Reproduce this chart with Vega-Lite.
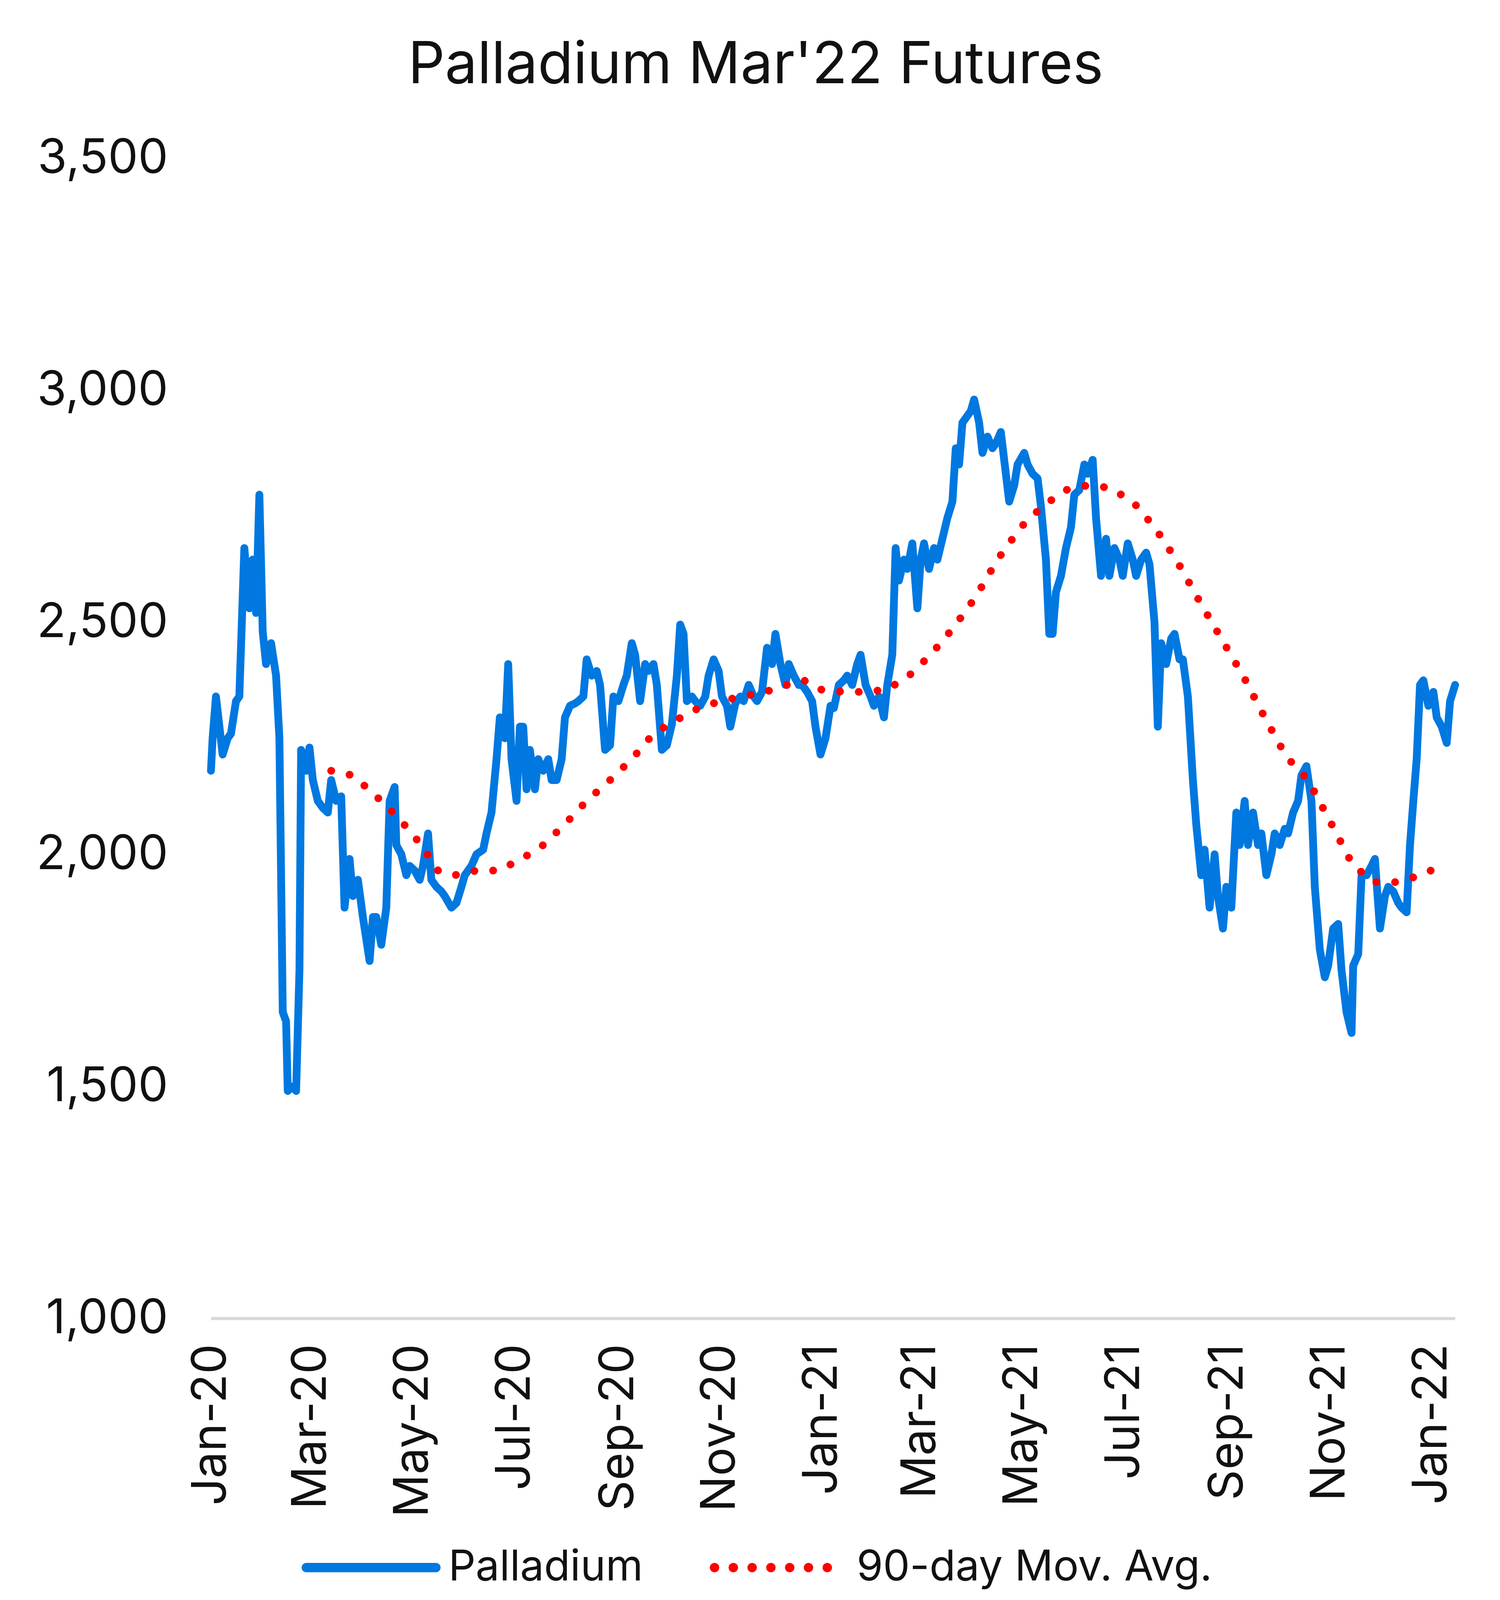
{
  "$schema": "https://vega.github.io/schema/vega-lite/v6.json",
  "description": "Palladium Mar'22 futures price with its 90-day moving average, Jan 2020 to Jan 2022.",
  "autosize": {"type": "none"},
  "width": 3185,
  "height": 2970,
  "padding": {"left": 540, "top": 405, "right": 115, "bottom": 1052},
  "background": "white",
  "config": {
    "font": "Inter",
    "view": {"stroke": null},
    "axis": {"labelFont": "Inter", "labelColor": "#111111", "labelFontSize": 122, "labelLimit": 0, "grid": false, "ticks": false, "title": null}
  },
  "title": {
    "text": "Palladium Mar'22 Futures",
    "fontSize": 148,
    "fontWeight": "normal",
    "color": "#111111",
    "anchor": "middle",
    "baseline": "alphabetic",
    "offset": 192,
    "dx": -198,
    "dy": 209
  },
  "datasets": {
    "palladium": [
      {"date": "2020-01-01", "series": "Palladium", "price": 2180},
      {"date": "2020-01-02", "series": "Palladium", "price": 2250},
      {"date": "2020-01-04", "series": "Palladium", "price": 2340},
      {"date": "2020-01-08", "series": "Palladium", "price": 2215},
      {"date": "2020-01-11", "series": "Palladium", "price": 2250},
      {"date": "2020-01-13", "series": "Palladium", "price": 2260},
      {"date": "2020-01-16", "series": "Palladium", "price": 2330},
      {"date": "2020-01-18", "series": "Palladium", "price": 2340},
      {"date": "2020-01-21", "series": "Palladium", "price": 2660},
      {"date": "2020-01-24", "series": "Palladium", "price": 2530},
      {"date": "2020-01-26", "series": "Palladium", "price": 2635},
      {"date": "2020-01-28", "series": "Palladium", "price": 2520},
      {"date": "2020-01-30", "series": "Palladium", "price": 2775},
      {"date": "2020-02-01", "series": "Palladium", "price": 2480},
      {"date": "2020-02-03", "series": "Palladium", "price": 2410},
      {"date": "2020-02-06", "series": "Palladium", "price": 2455},
      {"date": "2020-02-09", "series": "Palladium", "price": 2385},
      {"date": "2020-02-11", "series": "Palladium", "price": 2250},
      {"date": "2020-02-13", "series": "Palladium", "price": 1660},
      {"date": "2020-02-15", "series": "Palladium", "price": 1640},
      {"date": "2020-02-16", "series": "Palladium", "price": 1490},
      {"date": "2020-02-19", "series": "Palladium", "price": 1500},
      {"date": "2020-02-21", "series": "Palladium", "price": 1490},
      {"date": "2020-02-23", "series": "Palladium", "price": 1750},
      {"date": "2020-02-24", "series": "Palladium", "price": 2225},
      {"date": "2020-02-27", "series": "Palladium", "price": 2180},
      {"date": "2020-02-29", "series": "Palladium", "price": 2230},
      {"date": "2020-03-02", "series": "Palladium", "price": 2160},
      {"date": "2020-03-05", "series": "Palladium", "price": 2115},
      {"date": "2020-03-08", "series": "Palladium", "price": 2100},
      {"date": "2020-03-11", "series": "Palladium", "price": 2090},
      {"date": "2020-03-13", "series": "Palladium", "price": 2160},
      {"date": "2020-03-16", "series": "Palladium", "price": 2115},
      {"date": "2020-03-19", "series": "Palladium", "price": 2125},
      {"date": "2020-03-21", "series": "Palladium", "price": 1885},
      {"date": "2020-03-24", "series": "Palladium", "price": 1990},
      {"date": "2020-03-26", "series": "Palladium", "price": 1910},
      {"date": "2020-03-29", "series": "Palladium", "price": 1945},
      {"date": "2020-04-01", "series": "Palladium", "price": 1865},
      {"date": "2020-04-05", "series": "Palladium", "price": 1770},
      {"date": "2020-04-07", "series": "Palladium", "price": 1865},
      {"date": "2020-04-09", "series": "Palladium", "price": 1865},
      {"date": "2020-04-12", "series": "Palladium", "price": 1805},
      {"date": "2020-04-15", "series": "Palladium", "price": 1885},
      {"date": "2020-04-17", "series": "Palladium", "price": 2115},
      {"date": "2020-04-20", "series": "Palladium", "price": 2145},
      {"date": "2020-04-21", "series": "Palladium", "price": 2020},
      {"date": "2020-04-24", "series": "Palladium", "price": 2000},
      {"date": "2020-04-27", "series": "Palladium", "price": 1955},
      {"date": "2020-04-29", "series": "Palladium", "price": 1975},
      {"date": "2020-05-02", "series": "Palladium", "price": 1965},
      {"date": "2020-05-05", "series": "Palladium", "price": 1945},
      {"date": "2020-05-07", "series": "Palladium", "price": 1975},
      {"date": "2020-05-10", "series": "Palladium", "price": 2045},
      {"date": "2020-05-12", "series": "Palladium", "price": 1945},
      {"date": "2020-05-15", "series": "Palladium", "price": 1930},
      {"date": "2020-05-18", "series": "Palladium", "price": 1920},
      {"date": "2020-05-20", "series": "Palladium", "price": 1910},
      {"date": "2020-05-24", "series": "Palladium", "price": 1885},
      {"date": "2020-05-27", "series": "Palladium", "price": 1895},
      {"date": "2020-05-30", "series": "Palladium", "price": 1930},
      {"date": "2020-06-01", "series": "Palladium", "price": 1955},
      {"date": "2020-06-05", "series": "Palladium", "price": 1975},
      {"date": "2020-06-08", "series": "Palladium", "price": 2000},
      {"date": "2020-06-12", "series": "Palladium", "price": 2010},
      {"date": "2020-06-14", "series": "Palladium", "price": 2045},
      {"date": "2020-06-17", "series": "Palladium", "price": 2090},
      {"date": "2020-06-20", "series": "Palladium", "price": 2205},
      {"date": "2020-06-22", "series": "Palladium", "price": 2295},
      {"date": "2020-06-25", "series": "Palladium", "price": 2250},
      {"date": "2020-06-27", "series": "Palladium", "price": 2410},
      {"date": "2020-06-29", "series": "Palladium", "price": 2205},
      {"date": "2020-07-02", "series": "Palladium", "price": 2115},
      {"date": "2020-07-04", "series": "Palladium", "price": 2275},
      {"date": "2020-07-06", "series": "Palladium", "price": 2275},
      {"date": "2020-07-08", "series": "Palladium", "price": 2140},
      {"date": "2020-07-10", "series": "Palladium", "price": 2225},
      {"date": "2020-07-13", "series": "Palladium", "price": 2140},
      {"date": "2020-07-15", "series": "Palladium", "price": 2205},
      {"date": "2020-07-18", "series": "Palladium", "price": 2180},
      {"date": "2020-07-21", "series": "Palladium", "price": 2205},
      {"date": "2020-07-23", "series": "Palladium", "price": 2160},
      {"date": "2020-07-26", "series": "Palladium", "price": 2160},
      {"date": "2020-07-29", "series": "Palladium", "price": 2205},
      {"date": "2020-07-31", "series": "Palladium", "price": 2295},
      {"date": "2020-08-03", "series": "Palladium", "price": 2320},
      {"date": "2020-08-06", "series": "Palladium", "price": 2325},
      {"date": "2020-08-08", "series": "Palladium", "price": 2330},
      {"date": "2020-08-11", "series": "Palladium", "price": 2340},
      {"date": "2020-08-13", "series": "Palladium", "price": 2420},
      {"date": "2020-08-16", "series": "Palladium", "price": 2385},
      {"date": "2020-08-19", "series": "Palladium", "price": 2395},
      {"date": "2020-08-21", "series": "Palladium", "price": 2365},
      {"date": "2020-08-24", "series": "Palladium", "price": 2225},
      {"date": "2020-08-27", "series": "Palladium", "price": 2235},
      {"date": "2020-08-29", "series": "Palladium", "price": 2340},
      {"date": "2020-09-01", "series": "Palladium", "price": 2330},
      {"date": "2020-09-04", "series": "Palladium", "price": 2365},
      {"date": "2020-09-06", "series": "Palladium", "price": 2385},
      {"date": "2020-09-09", "series": "Palladium", "price": 2455},
      {"date": "2020-09-11", "series": "Palladium", "price": 2430},
      {"date": "2020-09-14", "series": "Palladium", "price": 2330},
      {"date": "2020-09-17", "series": "Palladium", "price": 2410},
      {"date": "2020-09-19", "series": "Palladium", "price": 2395},
      {"date": "2020-09-22", "series": "Palladium", "price": 2410},
      {"date": "2020-09-24", "series": "Palladium", "price": 2365},
      {"date": "2020-09-27", "series": "Palladium", "price": 2225},
      {"date": "2020-09-30", "series": "Palladium", "price": 2235},
      {"date": "2020-10-03", "series": "Palladium", "price": 2280},
      {"date": "2020-10-06", "series": "Palladium", "price": 2385},
      {"date": "2020-10-08", "series": "Palladium", "price": 2495},
      {"date": "2020-10-10", "series": "Palladium", "price": 2475},
      {"date": "2020-10-12", "series": "Palladium", "price": 2330},
      {"date": "2020-10-15", "series": "Palladium", "price": 2340},
      {"date": "2020-10-17", "series": "Palladium", "price": 2330},
      {"date": "2020-10-20", "series": "Palladium", "price": 2320},
      {"date": "2020-10-23", "series": "Palladium", "price": 2340},
      {"date": "2020-10-25", "series": "Palladium", "price": 2385},
      {"date": "2020-10-28", "series": "Palladium", "price": 2420},
      {"date": "2020-10-31", "series": "Palladium", "price": 2395},
      {"date": "2020-11-02", "series": "Palladium", "price": 2340},
      {"date": "2020-11-05", "series": "Palladium", "price": 2320},
      {"date": "2020-11-07", "series": "Palladium", "price": 2275},
      {"date": "2020-11-10", "series": "Palladium", "price": 2325},
      {"date": "2020-11-13", "series": "Palladium", "price": 2340},
      {"date": "2020-11-15", "series": "Palladium", "price": 2330},
      {"date": "2020-11-18", "series": "Palladium", "price": 2365},
      {"date": "2020-11-21", "series": "Palladium", "price": 2340},
      {"date": "2020-11-23", "series": "Palladium", "price": 2330},
      {"date": "2020-11-26", "series": "Palladium", "price": 2350},
      {"date": "2020-11-29", "series": "Palladium", "price": 2445},
      {"date": "2020-12-02", "series": "Palladium", "price": 2410},
      {"date": "2020-12-04", "series": "Palladium", "price": 2475},
      {"date": "2020-12-07", "series": "Palladium", "price": 2410},
      {"date": "2020-12-10", "series": "Palladium", "price": 2365},
      {"date": "2020-12-12", "series": "Palladium", "price": 2410},
      {"date": "2020-12-15", "series": "Palladium", "price": 2385},
      {"date": "2020-12-18", "series": "Palladium", "price": 2365},
      {"date": "2020-12-20", "series": "Palladium", "price": 2365},
      {"date": "2020-12-23", "series": "Palladium", "price": 2350},
      {"date": "2020-12-26", "series": "Palladium", "price": 2330},
      {"date": "2020-12-28", "series": "Palladium", "price": 2275},
      {"date": "2020-12-31", "series": "Palladium", "price": 2215},
      {"date": "2021-01-03", "series": "Palladium", "price": 2250},
      {"date": "2021-01-06", "series": "Palladium", "price": 2320},
      {"date": "2021-01-08", "series": "Palladium", "price": 2315},
      {"date": "2021-01-11", "series": "Palladium", "price": 2365},
      {"date": "2021-01-14", "series": "Palladium", "price": 2375},
      {"date": "2021-01-16", "series": "Palladium", "price": 2385},
      {"date": "2021-01-19", "series": "Palladium", "price": 2365},
      {"date": "2021-01-22", "series": "Palladium", "price": 2410},
      {"date": "2021-01-24", "series": "Palladium", "price": 2430},
      {"date": "2021-01-27", "series": "Palladium", "price": 2365},
      {"date": "2021-01-30", "series": "Palladium", "price": 2340},
      {"date": "2021-02-01", "series": "Palladium", "price": 2320},
      {"date": "2021-02-04", "series": "Palladium", "price": 2340},
      {"date": "2021-02-07", "series": "Palladium", "price": 2295},
      {"date": "2021-02-09", "series": "Palladium", "price": 2365},
      {"date": "2021-02-12", "series": "Palladium", "price": 2430},
      {"date": "2021-02-14", "series": "Palladium", "price": 2660},
      {"date": "2021-02-16", "series": "Palladium", "price": 2590},
      {"date": "2021-02-19", "series": "Palladium", "price": 2635},
      {"date": "2021-02-21", "series": "Palladium", "price": 2615},
      {"date": "2021-02-24", "series": "Palladium", "price": 2670},
      {"date": "2021-02-27", "series": "Palladium", "price": 2530},
      {"date": "2021-03-01", "series": "Palladium", "price": 2635},
      {"date": "2021-03-03", "series": "Palladium", "price": 2670},
      {"date": "2021-03-06", "series": "Palladium", "price": 2615},
      {"date": "2021-03-09", "series": "Palladium", "price": 2660},
      {"date": "2021-03-11", "series": "Palladium", "price": 2635},
      {"date": "2021-03-14", "series": "Palladium", "price": 2680},
      {"date": "2021-03-17", "series": "Palladium", "price": 2725},
      {"date": "2021-03-20", "series": "Palladium", "price": 2760},
      {"date": "2021-03-22", "series": "Palladium", "price": 2875},
      {"date": "2021-03-24", "series": "Palladium", "price": 2840},
      {"date": "2021-03-26", "series": "Palladium", "price": 2930},
      {"date": "2021-03-28", "series": "Palladium", "price": 2940},
      {"date": "2021-03-31", "series": "Palladium", "price": 2955},
      {"date": "2021-04-02", "series": "Palladium", "price": 2980},
      {"date": "2021-04-05", "series": "Palladium", "price": 2930},
      {"date": "2021-04-07", "series": "Palladium", "price": 2865},
      {"date": "2021-04-10", "series": "Palladium", "price": 2900},
      {"date": "2021-04-13", "series": "Palladium", "price": 2875},
      {"date": "2021-04-15", "series": "Palladium", "price": 2885},
      {"date": "2021-04-18", "series": "Palladium", "price": 2910},
      {"date": "2021-04-21", "series": "Palladium", "price": 2820},
      {"date": "2021-04-23", "series": "Palladium", "price": 2760},
      {"date": "2021-04-26", "series": "Palladium", "price": 2795},
      {"date": "2021-04-28", "series": "Palladium", "price": 2840},
      {"date": "2021-05-02", "series": "Palladium", "price": 2865},
      {"date": "2021-05-04", "series": "Palladium", "price": 2840},
      {"date": "2021-05-07", "series": "Palladium", "price": 2820},
      {"date": "2021-05-10", "series": "Palladium", "price": 2810},
      {"date": "2021-05-12", "series": "Palladium", "price": 2750},
      {"date": "2021-05-15", "series": "Palladium", "price": 2635},
      {"date": "2021-05-17", "series": "Palladium", "price": 2475},
      {"date": "2021-05-19", "series": "Palladium", "price": 2475},
      {"date": "2021-05-21", "series": "Palladium", "price": 2565},
      {"date": "2021-05-24", "series": "Palladium", "price": 2600},
      {"date": "2021-05-27", "series": "Palladium", "price": 2660},
      {"date": "2021-05-30", "series": "Palladium", "price": 2705},
      {"date": "2021-06-01", "series": "Palladium", "price": 2775},
      {"date": "2021-06-04", "series": "Palladium", "price": 2785},
      {"date": "2021-06-07", "series": "Palladium", "price": 2840},
      {"date": "2021-06-09", "series": "Palladium", "price": 2820},
      {"date": "2021-06-12", "series": "Palladium", "price": 2850},
      {"date": "2021-06-14", "series": "Palladium", "price": 2725},
      {"date": "2021-06-17", "series": "Palladium", "price": 2600},
      {"date": "2021-06-20", "series": "Palladium", "price": 2680},
      {"date": "2021-06-22", "series": "Palladium", "price": 2600},
      {"date": "2021-06-25", "series": "Palladium", "price": 2660},
      {"date": "2021-06-28", "series": "Palladium", "price": 2635},
      {"date": "2021-06-30", "series": "Palladium", "price": 2600},
      {"date": "2021-07-03", "series": "Palladium", "price": 2670},
      {"date": "2021-07-06", "series": "Palladium", "price": 2635},
      {"date": "2021-07-08", "series": "Palladium", "price": 2600},
      {"date": "2021-07-11", "series": "Palladium", "price": 2635},
      {"date": "2021-07-14", "series": "Palladium", "price": 2650},
      {"date": "2021-07-16", "series": "Palladium", "price": 2625},
      {"date": "2021-07-19", "series": "Palladium", "price": 2500},
      {"date": "2021-07-21", "series": "Palladium", "price": 2275},
      {"date": "2021-07-23", "series": "Palladium", "price": 2455},
      {"date": "2021-07-26", "series": "Palladium", "price": 2410},
      {"date": "2021-07-29", "series": "Palladium", "price": 2465},
      {"date": "2021-07-31", "series": "Palladium", "price": 2475},
      {"date": "2021-08-03", "series": "Palladium", "price": 2420},
      {"date": "2021-08-05", "series": "Palladium", "price": 2420},
      {"date": "2021-08-08", "series": "Palladium", "price": 2340},
      {"date": "2021-08-11", "series": "Palladium", "price": 2160},
      {"date": "2021-08-13", "series": "Palladium", "price": 2065},
      {"date": "2021-08-16", "series": "Palladium", "price": 1955},
      {"date": "2021-08-18", "series": "Palladium", "price": 2010},
      {"date": "2021-08-21", "series": "Palladium", "price": 1885},
      {"date": "2021-08-24", "series": "Palladium", "price": 2000},
      {"date": "2021-08-26", "series": "Palladium", "price": 1910},
      {"date": "2021-08-29", "series": "Palladium", "price": 1840},
      {"date": "2021-08-31", "series": "Palladium", "price": 1930},
      {"date": "2021-09-03", "series": "Palladium", "price": 1885},
      {"date": "2021-09-06", "series": "Palladium", "price": 2090},
      {"date": "2021-09-08", "series": "Palladium", "price": 2020},
      {"date": "2021-09-11", "series": "Palladium", "price": 2115},
      {"date": "2021-09-13", "series": "Palladium", "price": 2020},
      {"date": "2021-09-16", "series": "Palladium", "price": 2090},
      {"date": "2021-09-19", "series": "Palladium", "price": 2020},
      {"date": "2021-09-21", "series": "Palladium", "price": 2045},
      {"date": "2021-09-24", "series": "Palladium", "price": 1955},
      {"date": "2021-09-27", "series": "Palladium", "price": 2000},
      {"date": "2021-09-29", "series": "Palladium", "price": 2045},
      {"date": "2021-10-02", "series": "Palladium", "price": 2020},
      {"date": "2021-10-05", "series": "Palladium", "price": 2055},
      {"date": "2021-10-07", "series": "Palladium", "price": 2045},
      {"date": "2021-10-10", "series": "Palladium", "price": 2090},
      {"date": "2021-10-13", "series": "Palladium", "price": 2115},
      {"date": "2021-10-15", "series": "Palladium", "price": 2170},
      {"date": "2021-10-18", "series": "Palladium", "price": 2190},
      {"date": "2021-10-21", "series": "Palladium", "price": 2115},
      {"date": "2021-10-23", "series": "Palladium", "price": 1930},
      {"date": "2021-10-26", "series": "Palladium", "price": 1795},
      {"date": "2021-10-29", "series": "Palladium", "price": 1735},
      {"date": "2021-10-31", "series": "Palladium", "price": 1760},
      {"date": "2021-11-03", "series": "Palladium", "price": 1840},
      {"date": "2021-11-06", "series": "Palladium", "price": 1850},
      {"date": "2021-11-08", "series": "Palladium", "price": 1750},
      {"date": "2021-11-11", "series": "Palladium", "price": 1660},
      {"date": "2021-11-14", "series": "Palladium", "price": 1615},
      {"date": "2021-11-15", "series": "Palladium", "price": 1760},
      {"date": "2021-11-18", "series": "Palladium", "price": 1785},
      {"date": "2021-11-20", "series": "Palladium", "price": 1955},
      {"date": "2021-11-23", "series": "Palladium", "price": 1955},
      {"date": "2021-11-26", "series": "Palladium", "price": 1975},
      {"date": "2021-11-28", "series": "Palladium", "price": 1990},
      {"date": "2021-12-01", "series": "Palladium", "price": 1840},
      {"date": "2021-12-04", "series": "Palladium", "price": 1910},
      {"date": "2021-12-06", "series": "Palladium", "price": 1930},
      {"date": "2021-12-09", "series": "Palladium", "price": 1920},
      {"date": "2021-12-12", "series": "Palladium", "price": 1895},
      {"date": "2021-12-14", "series": "Palladium", "price": 1885},
      {"date": "2021-12-17", "series": "Palladium", "price": 1875},
      {"date": "2021-12-19", "series": "Palladium", "price": 2020},
      {"date": "2021-12-21", "series": "Palladium", "price": 2115},
      {"date": "2021-12-23", "series": "Palladium", "price": 2205},
      {"date": "2021-12-25", "series": "Palladium", "price": 2365},
      {"date": "2021-12-27", "series": "Palladium", "price": 2375},
      {"date": "2021-12-30", "series": "Palladium", "price": 2320},
      {"date": "2022-01-02", "series": "Palladium", "price": 2350},
      {"date": "2022-01-04", "series": "Palladium", "price": 2295},
      {"date": "2022-01-07", "series": "Palladium", "price": 2275},
      {"date": "2022-01-10", "series": "Palladium", "price": 2240},
      {"date": "2022-01-12", "series": "Palladium", "price": 2330},
      {"date": "2022-01-15", "series": "Palladium", "price": 2365}
    ],
    "movavg": [
      {"date": "2020-03-13", "series": "90-day Mov. Avg.", "price": 2180},
      {"date": "2020-03-26", "series": "90-day Mov. Avg.", "price": 2170},
      {"date": "2020-04-09", "series": "90-day Mov. Avg.", "price": 2125},
      {"date": "2020-04-22", "series": "90-day Mov. Avg.", "price": 2080},
      {"date": "2020-05-06", "series": "90-day Mov. Avg.", "price": 2020},
      {"date": "2020-05-16", "series": "90-day Mov. Avg.", "price": 1965},
      {"date": "2020-05-26", "series": "90-day Mov. Avg.", "price": 1955},
      {"date": "2020-06-08", "series": "90-day Mov. Avg.", "price": 1965},
      {"date": "2020-06-21", "series": "90-day Mov. Avg.", "price": 1965},
      {"date": "2020-07-05", "series": "90-day Mov. Avg.", "price": 1990},
      {"date": "2020-07-18", "series": "90-day Mov. Avg.", "price": 2020},
      {"date": "2020-07-31", "series": "90-day Mov. Avg.", "price": 2065},
      {"date": "2020-08-13", "series": "90-day Mov. Avg.", "price": 2115},
      {"date": "2020-08-27", "series": "90-day Mov. Avg.", "price": 2160},
      {"date": "2020-09-09", "series": "90-day Mov. Avg.", "price": 2205},
      {"date": "2020-09-22", "series": "90-day Mov. Avg.", "price": 2260},
      {"date": "2020-10-06", "series": "90-day Mov. Avg.", "price": 2290},
      {"date": "2020-10-19", "series": "90-day Mov. Avg.", "price": 2315},
      {"date": "2020-11-01", "series": "90-day Mov. Avg.", "price": 2330},
      {"date": "2020-11-14", "series": "90-day Mov. Avg.", "price": 2340},
      {"date": "2020-11-28", "series": "90-day Mov. Avg.", "price": 2350},
      {"date": "2020-12-11", "series": "90-day Mov. Avg.", "price": 2365},
      {"date": "2020-12-21", "series": "90-day Mov. Avg.", "price": 2375},
      {"date": "2020-12-31", "series": "90-day Mov. Avg.", "price": 2355},
      {"date": "2021-01-14", "series": "90-day Mov. Avg.", "price": 2350},
      {"date": "2021-01-27", "series": "90-day Mov. Avg.", "price": 2350},
      {"date": "2021-02-09", "series": "90-day Mov. Avg.", "price": 2355},
      {"date": "2021-02-22", "series": "90-day Mov. Avg.", "price": 2385},
      {"date": "2021-03-07", "series": "90-day Mov. Avg.", "price": 2430},
      {"date": "2021-03-21", "series": "90-day Mov. Avg.", "price": 2490},
      {"date": "2021-04-03", "series": "90-day Mov. Avg.", "price": 2555},
      {"date": "2021-04-16", "series": "90-day Mov. Avg.", "price": 2635},
      {"date": "2021-04-30", "series": "90-day Mov. Avg.", "price": 2705},
      {"date": "2021-05-13", "series": "90-day Mov. Avg.", "price": 2750},
      {"date": "2021-05-27", "series": "90-day Mov. Avg.", "price": 2785},
      {"date": "2021-06-09", "series": "90-day Mov. Avg.", "price": 2795},
      {"date": "2021-06-22", "series": "90-day Mov. Avg.", "price": 2790},
      {"date": "2021-07-06", "series": "90-day Mov. Avg.", "price": 2760},
      {"date": "2021-07-19", "series": "90-day Mov. Avg.", "price": 2705},
      {"date": "2021-08-01", "series": "90-day Mov. Avg.", "price": 2635},
      {"date": "2021-08-15", "series": "90-day Mov. Avg.", "price": 2545},
      {"date": "2021-08-28", "series": "90-day Mov. Avg.", "price": 2465},
      {"date": "2021-09-10", "series": "90-day Mov. Avg.", "price": 2385},
      {"date": "2021-09-23", "series": "90-day Mov. Avg.", "price": 2295},
      {"date": "2021-10-06", "series": "90-day Mov. Avg.", "price": 2210},
      {"date": "2021-10-19", "series": "90-day Mov. Avg.", "price": 2160},
      {"date": "2021-11-02", "series": "90-day Mov. Avg.", "price": 2065},
      {"date": "2021-11-15", "series": "90-day Mov. Avg.", "price": 1975},
      {"date": "2021-11-28", "series": "90-day Mov. Avg.", "price": 1940},
      {"date": "2021-12-12", "series": "90-day Mov. Avg.", "price": 1940},
      {"date": "2021-12-25", "series": "90-day Mov. Avg.", "price": 1955},
      {"date": "2022-01-07", "series": "90-day Mov. Avg.", "price": 1975}
    ]
  },
  "encoding": {
    "x": {
      "field": "date",
      "type": "temporal",
      "scale": {
        "type": "utc",
        "domain": [
          {"year": 2020, "month": 1, "date": 1, "utc": true},
          {"year": 2022, "month": 1, "date": 15, "utc": true}
        ]
      },
      "axis": {
        "labelExpr": "utcFormat(datum.value, '%b-%y')",
        "labelAngle": -90,
        "labelPadding": 65,
        "domainColor": "#D9D9D9",
        "domainWidth": 8,
        "labelOverlap": false,
        "values": [
          {"year": 2020, "month": 1, "date": 1, "utc": true},
          {"year": 2020, "month": 3, "date": 1, "utc": true},
          {"year": 2020, "month": 5, "date": 1, "utc": true},
          {"year": 2020, "month": 7, "date": 1, "utc": true},
          {"year": 2020, "month": 9, "date": 1, "utc": true},
          {"year": 2020, "month": 11, "date": 1, "utc": true},
          {"year": 2021, "month": 1, "date": 1, "utc": true},
          {"year": 2021, "month": 3, "date": 1, "utc": true},
          {"year": 2021, "month": 5, "date": 1, "utc": true},
          {"year": 2021, "month": 7, "date": 1, "utc": true},
          {"year": 2021, "month": 9, "date": 1, "utc": true},
          {"year": 2021, "month": 11, "date": 1, "utc": true},
          {"year": 2022, "month": 1, "date": 1, "utc": true}
        ]
      }
    },
    "y": {
      "field": "price",
      "type": "quantitative",
      "scale": {"domain": [1000, 3500], "nice": false, "zero": false},
      "axis": {
        "values": [1000, 1500, 2000, 2500, 3000, 3500],
        "labelExpr": "format(datum.value, ',')",
        "domain": false,
        "labelPadding": 110
      }
    },
    "color": {
      "field": "series",
      "type": "nominal",
      "scale": {"domain": ["Palladium", "90-day Mov. Avg."], "range": ["#0078E0", "#FF0000"]},
      "legend": {
        "title": null,
        "orient": "none",
        "direction": "horizontal",
        "legendX": 232,
        "legendY": 3430,
        "symbolType": "stroke",
        "symbolSize": 110000,
        "symbolStrokeWidth": 24,
        "labelFont": "Inter",
        "labelFontSize": 109,
        "labelColor": "#111111",
        "labelLimit": 0,
        "labelOffset": 20,
        "columnPadding": 135,
        "encode": {"symbols": {"update": {"strokeCap": {"value": "round"}}}}
      }
    },
    "strokeDash": {
      "field": "series",
      "type": "nominal",
      "scale": {"domain": ["Palladium", "90-day Mov. Avg."], "range": [[1, 0], [0.1, 48]]},
      "legend": null
    }
  },
  "layer": [
    {
      "data": {"name": "palladium"},
      "mark": {"type": "line", "strokeWidth": 20, "strokeJoin": "round", "strokeCap": "round"}
    },
    {
      "data": {"name": "movavg"},
      "mark": {"type": "line", "strokeWidth": 20, "strokeCap": "round"}
    }
  ]
}
